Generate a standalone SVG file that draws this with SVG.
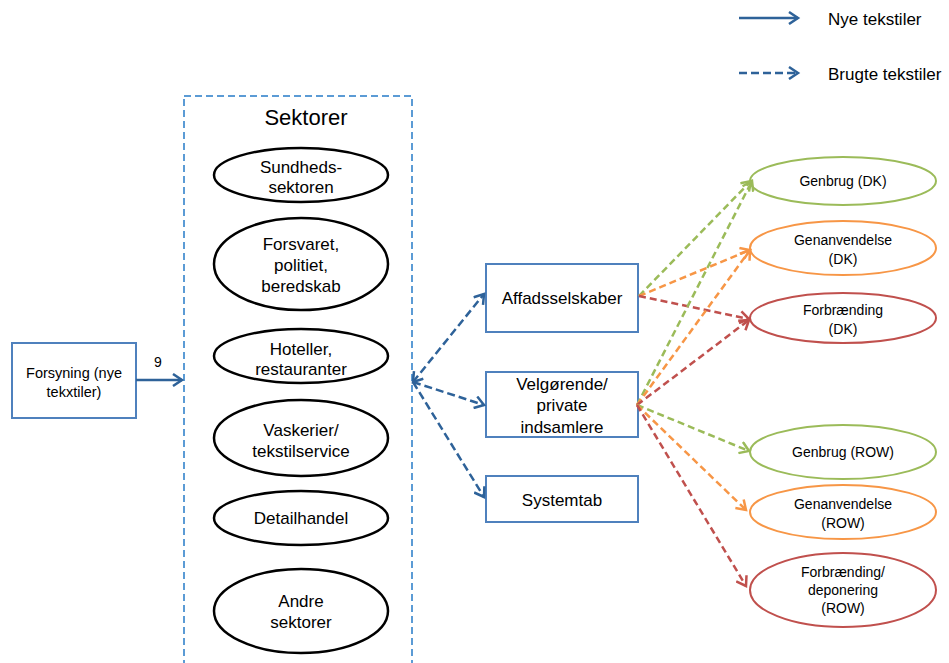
<svg xmlns="http://www.w3.org/2000/svg" width="949" height="663" viewBox="0 0 949 663">
<style>
text{font-family:"Liberation Sans","Open Sans",Arial,sans-serif;fill:#000;text-anchor:middle}
.t16{font-size:17px}
.t13{font-size:14px}
.sect ellipse{fill:#fff;stroke:#000;stroke-width:2.5}
.box rect{fill:#fff;stroke:#4f81bd;stroke-width:2}
.g{fill:#fff;stroke:#9bbb59;stroke-width:2}
.o{fill:#fff;stroke:#f79646;stroke-width:2}
.r{fill:#fff;stroke:#c0504d;stroke-width:2}
.blue{stroke:#2e6299;stroke-width:2.5;fill:none}
.dash{stroke-dasharray:8 4}
.cg{stroke:#9bbb59;stroke-width:2.5;fill:none;stroke-dasharray:7 4}
.co{stroke:#f79646;stroke-width:2.5;fill:none;stroke-dasharray:7 4}
.cr{stroke:#c0504d;stroke-width:2.5;fill:none;stroke-dasharray:7 4}
</style>
<defs>
<marker id="mb" markerUnits="userSpaceOnUse" markerWidth="14" markerHeight="14" refX="11" refY="7" orient="auto-start-reverse"><path d="M2,1 L11,7 L2,13" fill="none" stroke="#2e6299" stroke-width="2.5"/></marker>
<marker id="mg" markerUnits="userSpaceOnUse" markerWidth="14" markerHeight="14" refX="11" refY="7" orient="auto"><path d="M2,1 L11,7 L2,13" fill="none" stroke="#9bbb59" stroke-width="2.5"/></marker>
<marker id="mo" markerUnits="userSpaceOnUse" markerWidth="14" markerHeight="14" refX="11" refY="7" orient="auto"><path d="M2,1 L11,7 L2,13" fill="none" stroke="#f79646" stroke-width="2.5"/></marker>
<marker id="mr" markerUnits="userSpaceOnUse" markerWidth="14" markerHeight="14" refX="11" refY="7" orient="auto"><path d="M2,1 L11,7 L2,13" fill="none" stroke="#c0504d" stroke-width="2.5"/></marker>
</defs>

<g id="legend">
<line class="blue" x1="739" y1="18" x2="798" y2="18" marker-end="url(#mb)"/>
<text x="828" y="25" class="t16" style="text-anchor:start">Nye tekstiler</text>
<line class="blue dash" x1="739" y1="73" x2="798" y2="73" marker-end="url(#mb)"/>
<text x="828" y="80" class="t16" style="text-anchor:start">Brugte tekstiler</text>
</g>

<g id="forsyning" class="box">
<rect x="12" y="343" width="124" height="75"/>
<text x="74" y="378" style="font-size:14.5px">Forsyning (nye</text>
<text x="74" y="397" style="font-size:14.5px">tekxtiler)</text>
</g>

<g id="sektorer">
<rect x="184" y="96" width="228" height="580" fill="none" stroke="#5b9bd5" stroke-width="2" stroke-dasharray="7 4"/>
<text x="306" y="125" style="font-size:22px">Sektorer</text>
</g>
<g id="sundhed" class="sect"><ellipse cx="301" cy="175" rx="87" ry="27"/><text x="301" y="173" class="t16">Sundheds-</text><text x="301" y="193" class="t16">sektoren</text></g>
<g id="forsvaret" class="sect"><ellipse cx="301" cy="264" rx="87" ry="46"/><text x="301" y="250" class="t16">Forsvaret,</text><text x="301" y="271" class="t16">politiet,</text><text x="301" y="292" class="t16">beredskab</text></g>
<g id="hoteller" class="sect"><ellipse cx="301" cy="356" rx="87" ry="27"/><text x="301" y="355" class="t16">Hoteller,</text><text x="301" y="375" class="t16">restauranter</text></g>
<g id="vaskerier" class="sect"><ellipse cx="301" cy="438" rx="87" ry="38"/><text x="301" y="436" class="t16">Vaskerier/</text><text x="301" y="457" class="t16">tekstilservice</text></g>
<g id="detailhandel" class="sect"><ellipse cx="301" cy="518" rx="87" ry="27"/><text x="301" y="524" class="t16">Detailhandel</text></g>
<g id="andre" class="sect"><ellipse cx="301" cy="611" rx="87" ry="42"/><text x="301" y="607" class="t16">Andre</text><text x="301" y="628" class="t16">sektorer</text></g>

<g id="affald" class="box"><rect x="486" y="264" width="152" height="68"/><text x="562" y="304" class="t16">Affadsselskaber</text></g>
<g id="velgoerende" class="box"><rect x="486" y="372" width="152" height="65"/><text x="562" y="390" class="t16">Velgørende/</text><text x="562" y="411" class="t16">private</text><text x="562" y="433" class="t16">indsamlere</text></g>
<g id="systemtab" class="box"><rect x="486" y="476" width="152" height="46"/><text x="562" y="506" class="t16">Systemtab</text></g>

<g id="genbrug-dk"><ellipse class="g" cx="843" cy="181" rx="93" ry="24"/><text x="843" y="186" class="t13">Genbrug (DK)</text></g>
<g id="genanv-dk"><ellipse class="o" cx="843" cy="248" rx="93" ry="27"/><text x="843" y="245" class="t13">Genanvendelse</text><text x="843" y="264" class="t13">(DK)</text></g>
<g id="forbr-dk"><ellipse class="r" cx="843" cy="318" rx="93" ry="25"/><text x="843" y="315" class="t13">Forbrænding</text><text x="843" y="334" class="t13">(DK)</text></g>
<g id="genbrug-row"><ellipse class="g" cx="843" cy="452" rx="93" ry="27"/><text x="843" y="457" class="t13">Genbrug (ROW)</text></g>
<g id="genanv-row"><ellipse class="o" cx="843" cy="512" rx="93" ry="27"/><text x="843" y="509" class="t13">Genanvendelse</text><text x="843" y="528" class="t13">(ROW)</text></g>
<g id="forbr-row"><ellipse class="r" cx="843" cy="590" rx="93" ry="37"/><text x="843" y="577" class="t13">Forbrænding/</text><text x="843" y="595" class="t13">deponering</text><text x="843" y="613" class="t13">(ROW)</text></g>

<g id="connectors">
<line class="blue" x1="136" y1="380" x2="182" y2="380" marker-end="url(#mb)"/>
<text x="158" y="367" style="font-size:14px">9</text>
<line class="blue dash" x1="413" y1="382" x2="484" y2="294" marker-start="url(#mb)" marker-end="url(#mb)"/>
<line class="blue dash" x1="413" y1="382" x2="484" y2="405" marker-end="url(#mb)"/>
<line class="blue dash" x1="413" y1="382" x2="484" y2="497" marker-end="url(#mb)"/>

<line class="cg" x1="639" y1="296" x2="751" y2="181" marker-end="url(#mg)"/>
<line class="co" x1="639" y1="296" x2="750" y2="250" marker-end="url(#mo)"/>
<line class="cr" x1="639" y1="296" x2="749" y2="319" marker-end="url(#mr)"/>

<line class="cg" x1="637" y1="405" x2="752" y2="181" marker-end="url(#mg)"/>
<line class="co" x1="637" y1="405" x2="750" y2="250" marker-end="url(#mo)"/>
<line class="cr" x1="637" y1="405" x2="749" y2="320" marker-end="url(#mr)"/>
<line class="cg" x1="637" y1="405" x2="749" y2="451" marker-end="url(#mg)"/>
<line class="co" x1="637" y1="405" x2="746" y2="510" marker-end="url(#mo)"/>
<line class="cr" x1="637" y1="405" x2="746" y2="586" marker-end="url(#mr)"/>
</g>
</svg>
